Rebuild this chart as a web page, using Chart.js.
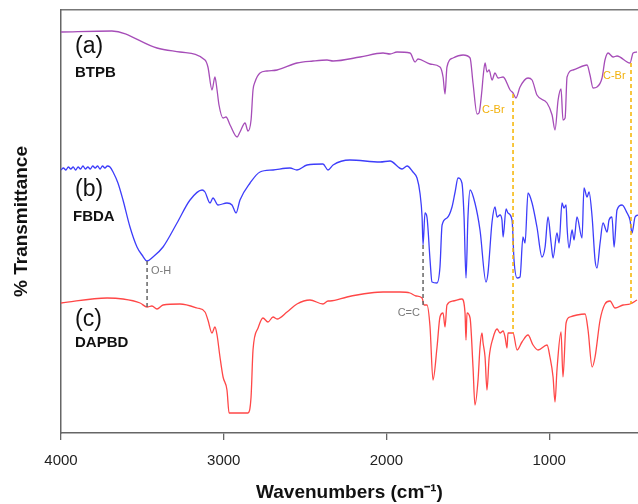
<!DOCTYPE html>
<html>
<head>
<meta charset="utf-8">
<script src="https://cdn.jsdelivr.net/npm/chart.js@4.4.1/dist/chart.umd.min.js"></script>
<style>
  body { margin: 0; background: #fff; }
  canvas { display: block; }
</style>
</head>
<body>
<canvas id="ftir" width="638" height="504"></canvas>
<script>
// spectra: [wavenumber cm-1, transmittance (arb. units, curves stacked)]
const btpb = [
  [4000, 401], [3687, 402], [3410, 385], [3269, 381], [3115, 373], [3097, 366], [3072, 343], [3054, 356],
  [3041, 343], [3029, 328], [3004, 315], [2986, 316], [2961, 308], [2918, 296], [2900, 301], [2869, 310],
  [2851, 302], [2832, 313], [2820, 343], [2808, 351], [2777, 360], [2734, 362], [2672, 363], [2550, 370],
  [2451, 372], [2365, 373], [2328, 372], [2162, 376], [2021, 380], [1978, 379], [1935, 381], [1855, 380],
  [1824, 371], [1806, 374], [1732, 369], [1671, 366], [1652, 356], [1640, 339], [1628, 366], [1591, 375],
  [1529, 378], [1486, 375], [1468, 350], [1443, 319], [1431, 320], [1413, 343], [1406, 356], [1394, 370],
  [1382, 361], [1369, 363], [1351, 353], [1333, 360], [1314, 355], [1283, 356], [1240, 343], [1222, 340],
  [1204, 335], [1179, 346], [1130, 355], [1105, 353], [1075, 338], [1013, 330], [982, 318], [964, 303],
  [945, 333], [927, 344], [915, 313], [902, 315], [890, 356], [853, 363], [767, 368], [749, 358],
  [730, 345], [706, 346], [675, 355], [657, 373], [638, 380], [607, 376], [583, 377], [503, 370],
  [484, 380], [460, 381]
];

const fbda = [
  [4000, 263], [3985, 265], [3970, 263], [3955, 266], [3940, 264], [3925, 266], [3910, 263], [3895, 266],
  [3880, 264], [3865, 267], [3850, 264], [3835, 266], [3820, 264], [3805, 267], [3790, 265], [3775, 267],
  [3760, 264], [3745, 267], [3730, 265], [3715, 267], [3699, 266],
  [3680, 261], [3650, 250], [3619, 233], [3576, 206], [3533, 186], [3502, 178], [3471, 172], [3435, 176],
  [3373, 186], [3287, 210], [3207, 233], [3133, 243], [3115, 241], [3084, 230], [3066, 235], [3035, 228],
  [2980, 230], [2949, 228], [2924, 220], [2900, 233], [2838, 250], [2777, 261], [2697, 263], [2593, 265],
  [2550, 263], [2488, 268], [2390, 269], [2359, 263], [2328, 268], [2224, 273], [2039, 271], [1978, 272],
  [1904, 264], [1873, 267], [1837, 261], [1812, 255], [1794, 240], [1781, 216], [1775, 188], [1763, 220],
  [1751, 216], [1732, 173], [1720, 151], [1689, 150], [1671, 166], [1658, 208], [1628, 215], [1597, 226],
  [1578, 241], [1560, 255], [1536, 250], [1523, 216], [1511, 155], [1499, 216], [1486, 243], [1456, 230],
  [1425, 203], [1388, 151], [1376, 160], [1351, 211], [1333, 226], [1320, 216], [1302, 218], [1290, 213],
  [1283, 196], [1265, 224], [1253, 220], [1228, 213], [1216, 173], [1197, 155], [1179, 156], [1161, 196],
  [1148, 190], [1130, 240], [1105, 230], [1075, 206], [1044, 176], [1025, 186], [1007, 216], [988, 190],
  [976, 175], [952, 200], [939, 190], [921, 230], [909, 225], [896, 228], [890, 206], [878, 185],
  [859, 203], [847, 193], [829, 216], [798, 195], [786, 245], [767, 236], [755, 241], [736, 216],
  [718, 173], [706, 165], [687, 190], [669, 210], [644, 201], [632, 213], [614, 216], [601, 186],
  [583, 223], [552, 228], [521, 220], [503, 213], [491, 200], [472, 216], [454, 218]
];

const dapbd = [
  [4000, 130], [3717, 135], [3619, 134], [3514, 130], [3471, 126], [3441, 127], [3410, 124], [3373, 128],
  [3269, 129], [3164, 125], [3115, 121], [3097, 113], [3072, 100], [3054, 106], [3041, 98], [3023, 76],
  [3004, 56], [2980, 43], [2967, 20], [2851, 20], [2832, 36], [2820, 83], [2789, 105], [2759, 115],
  [2728, 111], [2697, 116], [2672, 114], [2611, 121], [2550, 129], [2470, 133], [2390, 129], [2359, 132],
  [2347, 132], [2242, 136], [2181, 138], [2101, 140], [2021, 141], [1996, 141], [1917, 141], [1855, 140],
  [1818, 137], [1781, 135], [1769, 128], [1751, 128], [1732, 106], [1714, 53], [1689, 86], [1671, 116],
  [1652, 120], [1640, 106], [1628, 128], [1591, 132], [1536, 134], [1517, 120], [1511, 93], [1505, 120],
  [1486, 115], [1468, 66], [1456, 28], [1437, 53], [1425, 86], [1413, 100], [1406, 90], [1394, 76],
  [1382, 43], [1369, 75], [1345, 95], [1320, 104], [1302, 100], [1283, 102], [1271, 96], [1259, 85],
  [1253, 100], [1222, 100], [1197, 83], [1167, 91], [1130, 98], [1099, 88], [1068, 83], [1013, 88],
  [995, 76], [976, 56], [964, 31], [952, 63], [927, 101], [915, 56], [896, 110], [872, 116],
  [829, 118], [779, 119], [761, 103], [736, 66], [718, 76], [687, 113], [657, 129], [626, 132],
  [595, 125], [546, 128], [503, 129], [460, 133]
];

const xTicks = [4000, 3000, 2000, 1000];

// band markers: [wavenumber, from, to]
const greyMarkers = [[3471, 172, 126], [1775, 188, 128]];
const orangeMarkers = [[1222, 339, 100], [497, 370, 129]];

const seriesTags = ['(a)', '(b)', '(c)'];
const seriesNames = ['BTPB', 'FBDA', 'DAPBD'];
const tagAnchors = [[3914, 386], [3914, 243], [3914, 113]];
const nameAnchors = [[3914, 360], [3926, 216], [3914, 90]];
const bandLabels = [['O-H', 3447, 162], ['C=C', 1794, 120], ['C-Br', 1413, 323], ['C-Br', 669, 357]];

const FONT = "'Liberation Sans', Arial, sans-serif";
Chart.defaults.font.family = FONT;

function toPoints(rows) {
    return rows.map(r => ({ x: r[0], y: r[1] }));
}

function markerSets(list, color) {
    return list.map(m => ({
        data: [{ x: m[0], y: m[1] }, { x: m[0], y: m[2] }],
        borderColor: color,
        borderWidth: 1.5,
        borderDash: [4, 3],
        pointRadius: 0
    }));
}

function spectrum(rows, color) {
    return {
        data: toPoints(rows),
        borderColor: color,
        borderWidth: 1.3,
        pointRadius: 0,
        cubicInterpolationMode: 'monotone',
        borderJoinStyle: 'round'
    };
}

const labelPlugin = {
    id: 'labels',
    afterDatasetsDraw(chart) {
        const { ctx, scales } = chart;
        const px = v => scales.x.getPixelForValue(v);
        const py = v => scales.y.getPixelForValue(v);
        ctx.save();
        ctx.textBaseline = 'middle';
        ctx.fillStyle = '#111';
        ctx.textAlign = 'left';
        ctx.font = '23px ' + FONT;
        seriesTags.forEach((t, i) => ctx.fillText(t, px(tagAnchors[i][0]), py(tagAnchors[i][1])));
        ctx.font = 'bold 15px ' + FONT;
        seriesNames.forEach((t, i) => ctx.fillText(t, px(nameAnchors[i][0]), py(nameAnchors[i][1])));
        ctx.font = '11px ' + FONT;
        bandLabels.forEach(b => {
            const isBr = b[0] === 'C-Br';
            ctx.fillStyle = isBr ? '#f2b10c' : '#7a7a7a';
            ctx.textAlign = b[0] === 'C=C' ? 'right' : 'left';
            ctx.fillText(b[0], px(b[1]), py(b[2]));
        });
        ctx.restore();
    }
};

new Chart(document.getElementById('ftir'), {
    type: 'line',
    data: {
        datasets: [
            ...markerSets(orangeMarkers, '#f5b400'),
            ...markerSets(greyMarkers, '#666'),
            spectrum(btpb, '#a64db8'),
            spectrum(fbda, '#3d3dfa'),
            spectrum(dapbd, '#ff4747')
        ]
    },
    options: {
        responsive: false,
        animation: false,
        layout: { padding: 0 },
        plugins: {
            legend: { display: false },
            tooltip: { enabled: false }
        },
        scales: {
            x: {
                type: 'linear',
                position: 'bottom',
                reverse: true,
                min: 454,
                max: 4000,
                afterBuildTicks: s => { s.ticks = xTicks.map(v => ({ value: v })); },
                afterFit: s => { s.height = 71; },
                ticks: { font: { size: 15 }, color: '#222', padding: 12, callback: v => String(v) },
                grid: { display: true, drawOnChartArea: false, drawTicks: true, tickLength: 7, color: '#666', lineWidth: 1.3 },
                border: { display: true, color: '#666', width: 1.5 },
                title: {
                    display: true,
                    text: 'Wavenumbers (cm⁻¹)',
                    font: { size: 19, weight: 'bold' },
                    color: '#111',
                    padding: { top: 0, bottom: 0 }
                }
            },
            xTop: {
                type: 'linear',
                position: 'top',
                reverse: true,
                min: 454,
                max: 4000,
                afterFit: s => { s.height = 10; },
                ticks: { display: false },
                grid: { display: false },
                border: { display: true, color: '#777', width: 1.5 }
            },
            y: {
                min: 0,
                max: 423,
                afterFit: s => { s.width = 61; },
                ticks: { display: false },
                grid: { display: false },
                border: { display: true, color: '#666', width: 1.5 },
                title: {
                    display: true,
                    text: '% Transmittance',
                    font: { size: 19, weight: 'bold' },
                    color: '#111',
                    padding: { top: 10, bottom: 0 }
                }
            }
        }
    },
    plugins: [labelPlugin]
});
</script>
</body>
</html>
